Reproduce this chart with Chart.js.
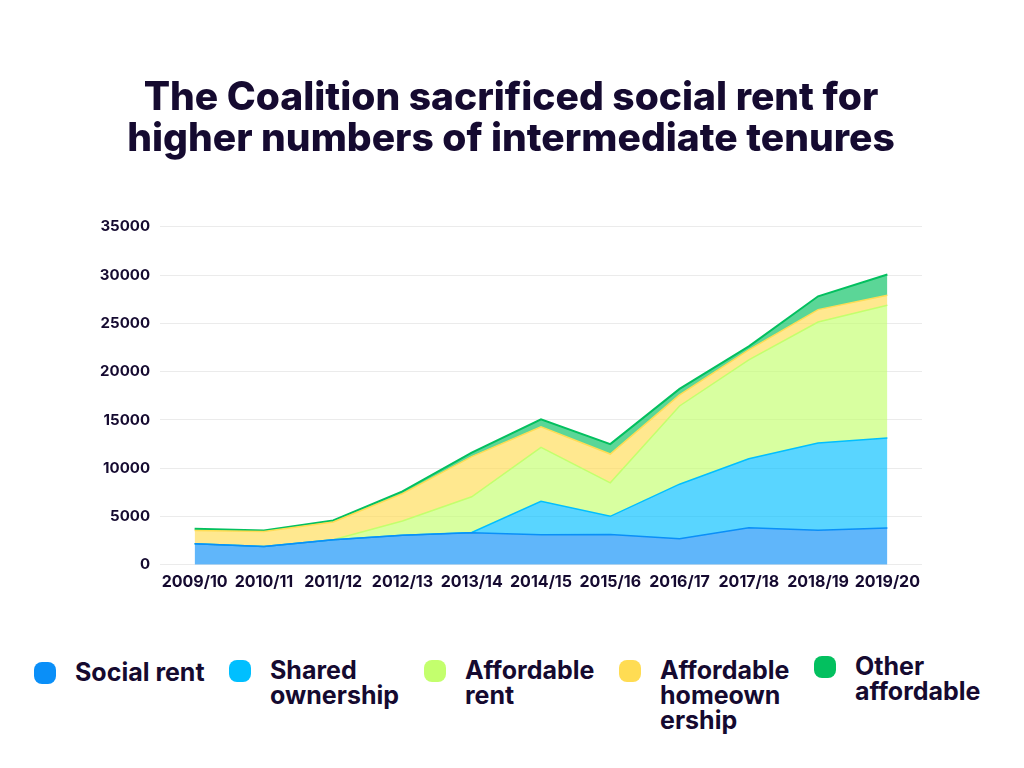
<!DOCTYPE html>
<html>
<head>
<meta charset="utf-8">
<title>Affordable housing completions by tenure</title>
<script src="https://cdn.jsdelivr.net/npm/chart.js@4.4.1/dist/chart.umd.min.js"></script>
<style>
	body { margin: 0; background: #fff; width: 1024px; height: 768px; overflow: hidden; font-family: Inter, sans-serif; }
	#chartWrap { position: absolute; left: 0; top: 0; width: 1024px; height: 600px; }
	#legend { position: absolute; left: 34px; top: 658px; display: flex; align-items: flex-start; }
	.legend-item { display: flex; align-items: flex-start; width: 195px; }
	.legend-item:nth-child(1) { margin-top: 2px; }
	.legend-item:nth-child(5) { margin-top: -4px; }
	.legend-box { flex: none; width: 22px; height: 22px; border-radius: 8px; margin-top: 2px; }
	.legend-text { margin-left: 19px; font: 700 25px/25px Inter, sans-serif; color: #150a30; }
</style>
</head>
<body>
<div id="chartWrap"><canvas id="tenureChart"></canvas></div>
<div id="legend"></div>
<script>
const years = ['2009/10', '2010/11', '2011/12', '2012/13', '2013/14', '2014/15', '2015/16', '2016/17', '2017/18', '2018/19', '2019/20'];
const socialRent = [2180, 1900, 2600, 3050, 3320, 3120, 3150, 2700, 3840, 3570, 3810];
const sharedOwnership = [0, 0, 0, 0, 30, 3460, 1870, 5650, 7140, 9040, 9320];
const affordableRent = [0, 0, 0, 1480, 3700, 5580, 3470, 8100, 10250, 12540, 13750];
const affordableHomeownership = [1380, 1560, 1830, 2840, 4160, 2140, 2980, 1150, 1040, 1280, 1040];
const otherAffordable = [180, 100, 170, 230, 420, 770, 1030, 620, 350, 1380, 2150];

const seriesNames = ['Social rent', 'Shared ownership', 'Affordable rent', 'Affordable homeownership', 'Other affordable'];
const legendLines = [['Social rent'], ['Shared', 'ownership'], ['Affordable', 'rent'], ['Affordable', 'homeown', 'ership'], ['Other', 'affordable']];
const yTicks = [0, 5000, 10000, 15000, 20000, 25000, 30000, 35000];
const titleLines = ['The Coalition sacrificed social rent for', 'higher numbers of intermediate tenures'];

const seriesValues = [socialRent, sharedOwnership, affordableRent, affordableHomeownership, otherAffordable];
const seriesColors = ['#0a8ff8', '#00bfff', '#c3ff6d', '#ffdc53', '#03c05f'];
const textColor = '#150a30';

function withAlpha(hex, a) {
	const n = parseInt(hex.slice(1), 16);
	return `rgba(${(n >> 16) & 255}, ${(n >> 8) & 255}, ${n & 255}, ${a})`;
}

const ctx = document.getElementById('tenureChart').getContext('2d');

new Chart(ctx, {
	type: 'line',
	data: {
		labels: years,
		datasets: seriesNames.map((name, i) => ({
			label: name,
			data: seriesValues[i],
			borderColor: seriesColors[i],
			backgroundColor: withAlpha(seriesColors[i], 0.65),
			borderWidth: i === 4 ? 2 : 1.5,
			fill: i === 0 ? 'origin' : '-1',
			pointRadius: 0,
			tension: 0
		}))
	},
	options: {
		responsive: true,
		maintainAspectRatio: false,
		animation: false,
		layout: { padding: { left: 100, right: 102, top: 0, bottom: 0 } },
		plugins: {
			legend: { display: false },
			title: {
				display: true,
				text: titleLines,
				color: textColor,
				font: { family: 'Inter', size: 39, weight: '800', lineHeight: 1.05 },
				padding: { top: 78, bottom: 67 }
			},
			tooltip: { mode: 'index', intersect: false }
		},
		scales: {
			x: {
				offset: true,
				grid: { display: false, drawTicks: false },
				border: { display: false },
				ticks: {
					color: textColor,
					font: { family: 'Inter', size: 16, weight: '700' },
					padding: 8,
					maxRotation: 0,
					autoSkip: false
				}
			},
			y: {
				stacked: true,
				min: yTicks[0],
				max: yTicks[yTicks.length - 1],
				afterBuildTicks: scale => { scale.ticks = yTicks.map(v => ({ value: v })); },
				afterFit: scale => { scale.width = 60; },
				grid: { color: '#ebebeb', drawTicks: false },
				border: { display: false },
				ticks: {
					color: textColor,
					font: { family: 'Inter', size: 15, weight: '700' },
					padding: 10,
					callback: v => String(v)
				}
			}
		}
	}
});

// HTML legend, wrapped like the original
document.getElementById('legend').innerHTML = seriesNames.map((name, i) => `
	<div class="legend-item">
		<span class="legend-box" style="background:${seriesColors[i]}"></span>
		<span class="legend-text">${legendLines[i].join('<br>')}</span>
	</div>
`).join('');
</script>
</body>
</html>
